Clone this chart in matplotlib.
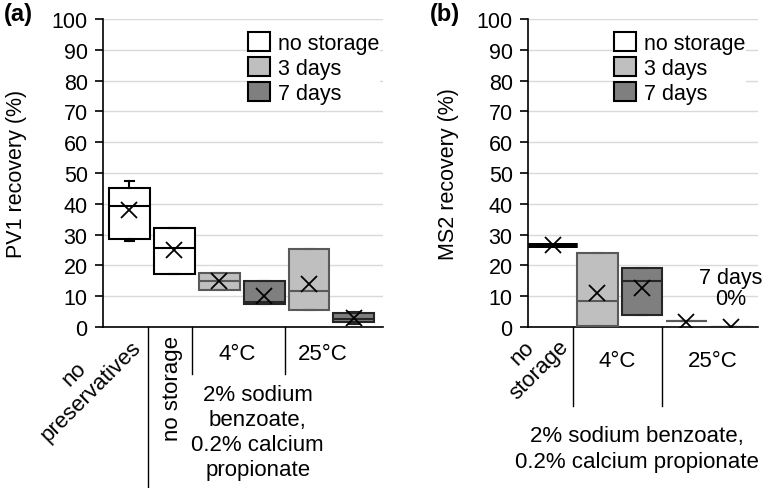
import matplotlib.pyplot as plt
from matplotlib.patches import Patch

plt.rcParams['font.family'] = ['Liberation Sans', 'DejaVu Sans']
plt.rcParams['font.size'] = 16

# (a) PV1 recovery (%)
a_q1 = [28.5, 17.3, 12.0, 7.5, 5.5, 1.5]
a_med = [39.3, 25.7, 14.8, 8.0, 11.7, 2.7]
a_q3 = [45.0, 32.0, 17.5, 14.8, 25.2, 4.5]
a_lo = [28.0, 17.3, 12.0, 7.5, 5.5, 1.0]
a_hi = [47.5, 32.0, 17.5, 14.8, 25.2, 5.0]
a_mean = [38.0, 25.0, 14.8, 10.0, 14.0, 3.0]
a_storage = ['none', 'none', '3 days', '7 days', '3 days', '7 days']

# (b) MS2 recovery (%)
b_q1 = [26.5, 0.4, 4.0, 1.8, 0.0]
b_med = [26.5, 8.5, 15.0, 1.8, 0.0]
b_q3 = [26.5, 24.0, 19.3, 1.8, 0.0]
b_lo = [26.5, 0.4, 4.0, 1.8, 0.0]
b_hi = [26.5, 24.0, 19.3, 1.8, 0.0]
b_mean = [26.5, 11.0, 12.7, 1.5, 0.0]
b_storage = ['none', '3 days', '7 days', '3 days', '7 days']

legend_labels = ['no storage', '3 days', '7 days']
fill = {'none': 'white', '3 days': '#bfbfbf', '7 days': '#7f7f7f'}
edge = {'none': 'black', '3 days': '#595959', '7 days': '#262626'}
legend_key = {'no storage': 'none', '3 days': '3 days', '7 days': '7 days'}


def draw_boxes(ax, q1, med, q3, lo, hi, mean, storage):
    stats = []
    widths = []
    for i in range(len(q1)):
        stats.append(dict(q1=q1[i], med=med[i], q3=q3[i], whislo=lo[i],
                          whishi=hi[i], mean=mean[i], fliers=[]))
        # flat "no storage" box is drawn as a wide heavy bar
        widths.append(1.1 if (q1[i] == q3[i] and storage[i] == 'none') else 0.91)
    pos = list(range(1, len(stats) + 1))
    res = ax.bxp(stats, positions=pos, widths=widths, patch_artist=True,
                 showmeans=True, manage_ticks=False, capwidths=0.22,
                 meanprops=dict(marker='x', markersize=11, markeredgecolor='black',
                                markeredgewidth=1.3),
                 zorder=3)
    for i, s in enumerate(storage):
        flat = q1[i] == q3[i]
        lw = 3.5 if (flat and s == 'none') else 1.5
        box = res['boxes'][i]
        box.set_facecolor(fill[s])
        box.set_edgecolor(edge[s])
        box.set_linewidth(lw)
        res['medians'][i].set_color(edge[s])
        res['medians'][i].set_linewidth(lw)
        for art in res['whiskers'][2 * i:2 * i + 2] + res['caps'][2 * i:2 * i + 2]:
            art.set_color(edge[s])
            art.set_linewidth(1.5)


def style_axis(ax, ylabel, xlim, label_x, legend_x):
    ax.set_ylim(0, 100)
    ax.set_xlim(*xlim)
    ax.set_yticks(range(0, 101, 10))
    ax.set_xticks([])
    ax.grid(axis='y', color='#d9d9d9', linewidth=1)
    ax.set_axisbelow(True)
    for sp in ['top', 'right']:
        ax.spines[sp].set_visible(False)
    for sp in ['left', 'bottom']:
        ax.spines[sp].set_linewidth(1.2)
    ax.tick_params(axis='y', length=6, width=1.2, pad=5, labelsize=15.5)
    ax.set_ylabel(ylabel, fontsize=15.5)
    ax.yaxis.set_label_coords(label_x, 0.5)
    handles = [Patch(facecolor=fill[legend_key[l]], edgecolor='black', linewidth=1.5)
               for l in legend_labels]
    leg = ax.legend(handles, legend_labels, loc='upper left',
                    bbox_to_anchor=(legend_x, 0.958), fontsize=15.5, frameon=True,
                    framealpha=1, edgecolor='none', borderpad=0, borderaxespad=0,
                    handlelength=1.0, handleheight=1.0, handletextpad=0.4,
                    labelspacing=0.13)
    leg.get_frame().set_linewidth(0)


def separator(ax, x, y_end):
    ax.plot([x, x], [0, y_end], color='black', linewidth=1,
            transform=ax.get_xaxis_transform(), clip_on=False)


fig = plt.figure(figsize=(7.65, 4.89), dpi=100)
ax_a = fig.add_axes([103 / 765, 1 - 328 / 489, 280 / 765, 308 / 489])
ax_b = fig.add_axes([528 / 765, 1 - 328 / 489, 230 / 765, 308 / 489])

draw_boxes(ax_a, a_q1, a_med, a_q3, a_lo, a_hi, a_mean, a_storage)
style_axis(ax_a, 'PV1 recovery (%)', (0.41, 6.65), -0.27, 0.518)

draw_boxes(ax_b, b_q1, b_med, b_q3, b_lo, b_hi, b_mean, b_storage)
style_axis(ax_b, 'MS2 recovery (%)', (0.44, 5.61), -0.30, 0.374)

tr_a = ax_a.get_xaxis_transform()
separator(ax_a, 1.41, -0.53)
separator(ax_a, 2.39, -0.153)
separator(ax_a, 4.46, -0.153)
ax_a.text(-0.04, -0.18, 'no\npreservatives', transform=tr_a, rotation=45,
          ha='center', va='center', multialignment='center', rotation_mode='anchor')
ax_a.text(1.95, -0.195, 'no storage', transform=tr_a, rotation=90,
          ha='center', va='center')
ax_a.text(3.39, -0.085, '4°C', transform=tr_a, ha='center', va='center')
ax_a.text(5.31, -0.085, '25°C', transform=tr_a, ha='center', va='center')
ax_a.text(3.86, -0.342, '2% sodium\nbenzoate,\n0.2% calcium\npropionate',
          transform=tr_a, ha='center', va='center', multialignment='center',
          linespacing=1.25)

tr_b = ax_b.get_xaxis_transform()
separator(ax_b, 1.45, -0.256)
separator(ax_b, 3.45, -0.256)
ax_b.text(0.5, -0.11, 'no\nstorage', transform=tr_b, rotation=45,
          ha='center', va='center', multialignment='center', rotation_mode='anchor')
ax_b.text(2.44, -0.11, '4°C', transform=tr_b, ha='center', va='center')
ax_b.text(4.6, -0.11, '25°C', transform=tr_b, ha='center', va='center')
ax_b.text(2.89, -0.395, '2% sodium benzoate,\n0.2% calcium propionate',
          transform=tr_b, ha='center', va='center', multialignment='center',
          linespacing=1.3)
ax_b.text(5.0, 12.7, '7 days\n0%', ha='center', va='center',
          multialignment='center', linespacing=1.0, fontsize=15.5)

fig.text(18 / 765, 1 - 15 / 489, '(a)', fontsize=17, fontweight='bold',
         ha='center', va='center')
fig.text(445 / 765, 1 - 15 / 489, '(b)', fontsize=17, fontweight='bold',
         ha='center', va='center')

fig.savefig('out.png', dpi=100)
